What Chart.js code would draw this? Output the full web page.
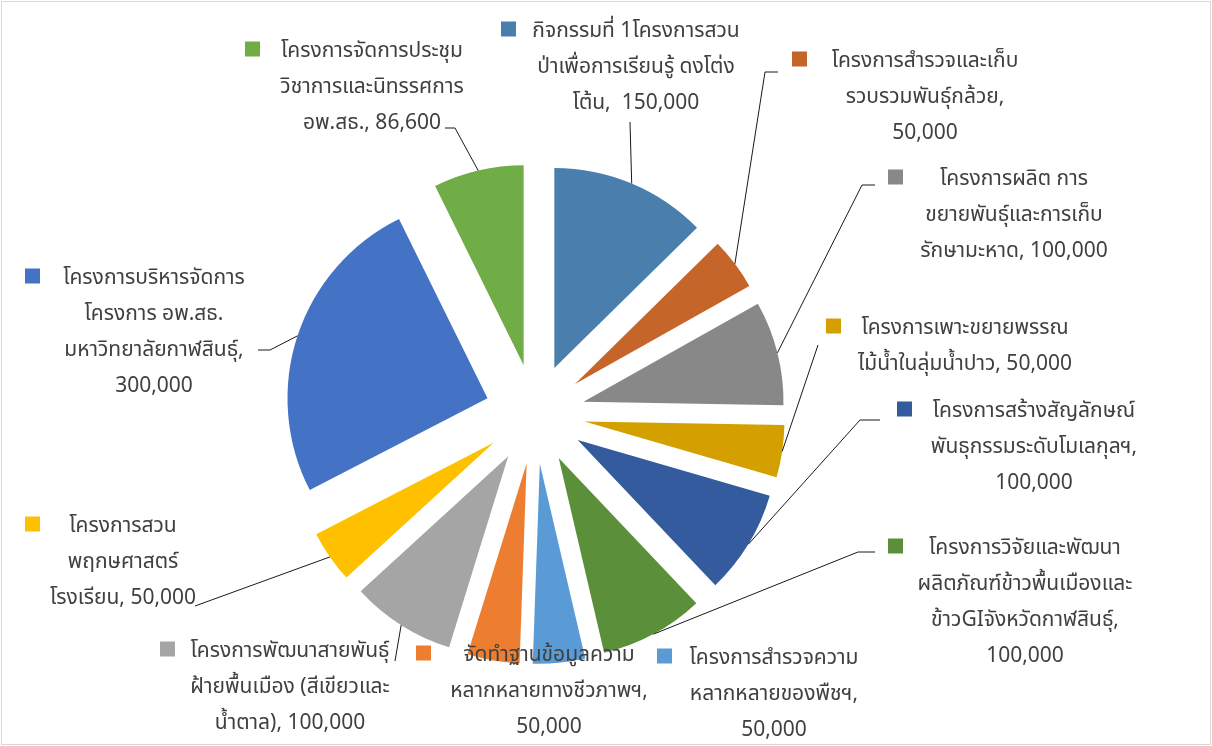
<!DOCTYPE html>
<html>
<head>
<meta charset="utf-8">
<script src="https://cdn.jsdelivr.net/npm/chart.js@4.4.1/dist/chart.umd.min.js"></script>
<style>
  html, body { margin: 0; padding: 0; background: #fff; }
  canvas { display: block; }
</style>
</head>
<body>
<canvas id="budgetChart" width="1212" height="746"></canvas>
<script>
const categories = [
    'กิจกรรมที่ 1โครงการสวนป่าเพื่อการเรียนรู้ ดงโต่งโต้น',
    'โครงการสำรวจและเก็บรวบรวมพันธุ์กล้วย',
    'โครงการผลิต การขยายพันธุ์และการเก็บรักษามะหาด',
    'โครงการเพาะขยายพรรณไม้น้ำในลุ่มน้ำปาว',
    'โครงการสร้างสัญลักษณ์พันธุกรรมระดับโมเลกุลฯ',
    'โครงการวิจัยและพัฒนาผลิตภัณฑ์ข้าวพื้นเมืองและข้าวGIจังหวัดกาฬสินธุ์',
    'โครงการสำรวจความหลากหลายของพืชฯ',
    'จัดทำฐานข้อมูลความหลากหลายทางชีวภาพฯ',
    'โครงการพัฒนาสายพันธุ์ฝ้ายพื้นเมือง (สีเขียวและน้ำตาล)',
    'โครงการสวนพฤกษศาสตร์โรงเรียน',
    'โครงการบริหารจัดการโครงการ อพ.สธ. มหาวิทยาลัยกาฬสินธุ์',
    'โครงการจัดการประชุมวิชาการและนิทรรศการ อพ.สธ.'
];
const budget = [150000, 50000, 100000, 50000, 100000, 100000, 50000, 50000, 100000, 50000, 300000, 86600];

const sliceColors = [
    '#4A7EAD', '#C5652A', '#888888', '#D4A000', '#355B9F', '#5B8F3A',
    '#5B9BD5', '#ED7D31', '#A5A5A5', '#FFC000', '#4472C4', '#70AD47'
];

// label boxes: text lines ({v} = formatted value), centre x, first line y, key x, leader bend points
const labelLayout = [
    { lines: ['กิจกรรมที่ 1โครงการสวน', 'ป่าเพื่อการเรียนรู้ ดงโต่ง', 'โต้น,  {v}'], x: 636, y: 33, keyX: 501, leader: [[630, 122]] },
    { lines: ['โครงการสำรวจและเก็บ', 'รวบรวมพันธุ์กล้วย,', '{v}'], x: 925, y: 63, keyX: 792, leader: [[765, 72], [778, 72]] },
    { lines: ['โครงการผลิต การ', 'ขยายพันธุ์และการเก็บ', 'รักษามะหาด, {v}'], x: 1014, y: 181, keyX: 888, leader: [[862, 185], [875, 185]] },
    { lines: ['โครงการเพาะขยายพรรณ', 'ไม้น้ำในลุ่มน้ำปาว, {v}'], x: 965, y: 330, keyX: 826, leader: [[818, 345]] },
    { lines: ['โครงการสร้างสัญลักษณ์', 'พันธุกรรมระดับโมเลกุลฯ,', '{v}'], x: 1034, y: 413, keyX: 897, leader: [[860, 420], [880, 420]] },
    { lines: ['โครงการวิจัยและพัฒนา', 'ผลิตภัณฑ์ข้าวพื้นเมืองและ', 'ข้าวGIจังหวัดกาฬสินธุ์,', '{v}'], x: 1025, y: 550, keyX: 888, leader: [[858, 552], [875, 552]] },
    { lines: ['โครงการสำรวจความ', 'หลากหลายของพืชฯ,', '{v}'], x: 774, y: 660, keyX: 657, leader: null },
    { lines: ['จัดทำฐานข้อมูลความ', 'หลากหลายทางชีวภาพฯ,', '{v}'], x: 549, y: 657, keyX: 416, leader: null },
    { lines: ['โครงการพัฒนาสายพันธุ์', 'ฝ้ายพื้นเมือง (สีเขียวและ', 'น้ำตาล), {v}'], x: 290, y: 653, keyX: 160, leader: [[395, 661]] },
    { lines: ['โครงการสวน', 'พฤกษศาสตร์', 'โรงเรียน, {v}'], x: 123, y: 528, keyX: 25, leader: [[195, 606]] },
    { lines: ['โครงการบริหารจัดการ', 'โครงการ อพ.สธ.', 'มหาวิทยาลัยกาฬสินธุ์,', '{v}'], x: 154, y: 280, keyX: 25, leader: [[270, 350], [258, 350]] },
    { lines: ['โครงการจัดการประชุม', 'วิชาการและนิทรรศการ', 'อพ.สธ., {v}'], x: 372, y: 53, keyX: 245, leader: [[455, 128], [445, 128]] }
];

const EXPLODE = 50;
const LINE_HEIGHT = 36;
const KEY_SIZE = 15;
const LABEL_FONT = '21px "Noto Sans Thai", "Noto Sans", "DejaVu Sans", sans-serif';

// white page with a thin grey frame
const framePlugin = {
    id: 'frame',
    beforeDraw(chart) {
        const ctx = chart.ctx;
        ctx.save();
        ctx.fillStyle = '#ffffff';
        ctx.fillRect(0, 0, chart.width, chart.height);
        ctx.strokeStyle = '#D9D9D9';
        ctx.lineWidth = 1;
        ctx.strokeRect(1.5, 1.5, chart.width - 3, chart.height - 3);
        ctx.restore();
    }
};

// pull every slice out from the centre by the same distance
const explodePlugin = {
    id: 'explode',
    beforeDatasetDraw(chart, args) {
        const ctx = chart.ctx;
        args.meta.data.forEach(function(arc) {
            const mid = (arc.startAngle + arc.endAngle) / 2;
            ctx.save();
            ctx.translate(Math.cos(mid) * EXPLODE, Math.sin(mid) * EXPLODE);
            arc.draw(ctx);
            ctx.restore();
        });
        return false;
    }
};

// data labels with legend key and leader lines
const sliceLabelPlugin = {
    id: 'sliceLabels',
    afterDatasetsDraw(chart) {
        const ctx = chart.ctx;
        const meta = chart.getDatasetMeta(0);
        ctx.save();
        meta.data.forEach(function(arc, i) {
            const lay = labelLayout[i];
            if (lay.leader) {
                const mid = (arc.startAngle + arc.endAngle) / 2;
                const r = arc.outerRadius + EXPLODE;
                ctx.beginPath();
                ctx.moveTo(arc.x + Math.cos(mid) * r, arc.y + Math.sin(mid) * r);
                lay.leader.forEach(function(p) { ctx.lineTo(p[0], p[1]); });
                ctx.strokeStyle = '#1a1a1a';
                ctx.lineWidth = 1;
                ctx.stroke();
            }
            ctx.fillStyle = sliceColors[i];
            ctx.fillRect(lay.keyX, lay.y - 11.5, KEY_SIZE, KEY_SIZE);

            const text = budget[i].toLocaleString('en-US');
            ctx.font = LABEL_FONT;
            ctx.fillStyle = '#404040';
            ctx.textAlign = 'center';
            ctx.textBaseline = 'middle';
            lay.lines.forEach(function(line, k) {
                ctx.fillText(line.replace('{v}', text), lay.x, lay.y + k * LINE_HEIGHT);
            });
        });
        ctx.restore();
    }
};

new Chart(document.getElementById('budgetChart'), {
    type: 'pie',
    data: {
        labels: categories,
        datasets: [{
            data: budget,
            backgroundColor: sliceColors,
            borderWidth: 0
        }]
    },
    options: {
        responsive: false,
        animation: false,
        radius: 200,
        layout: {
            padding: { left: 35, right: 177, top: 100, bottom: 18 }
        },
        plugins: {
            legend: { display: false },
            tooltip: { enabled: false }
        }
    },
    plugins: [framePlugin, explodePlugin, sliceLabelPlugin]
});
</script>
</body>
</html>
